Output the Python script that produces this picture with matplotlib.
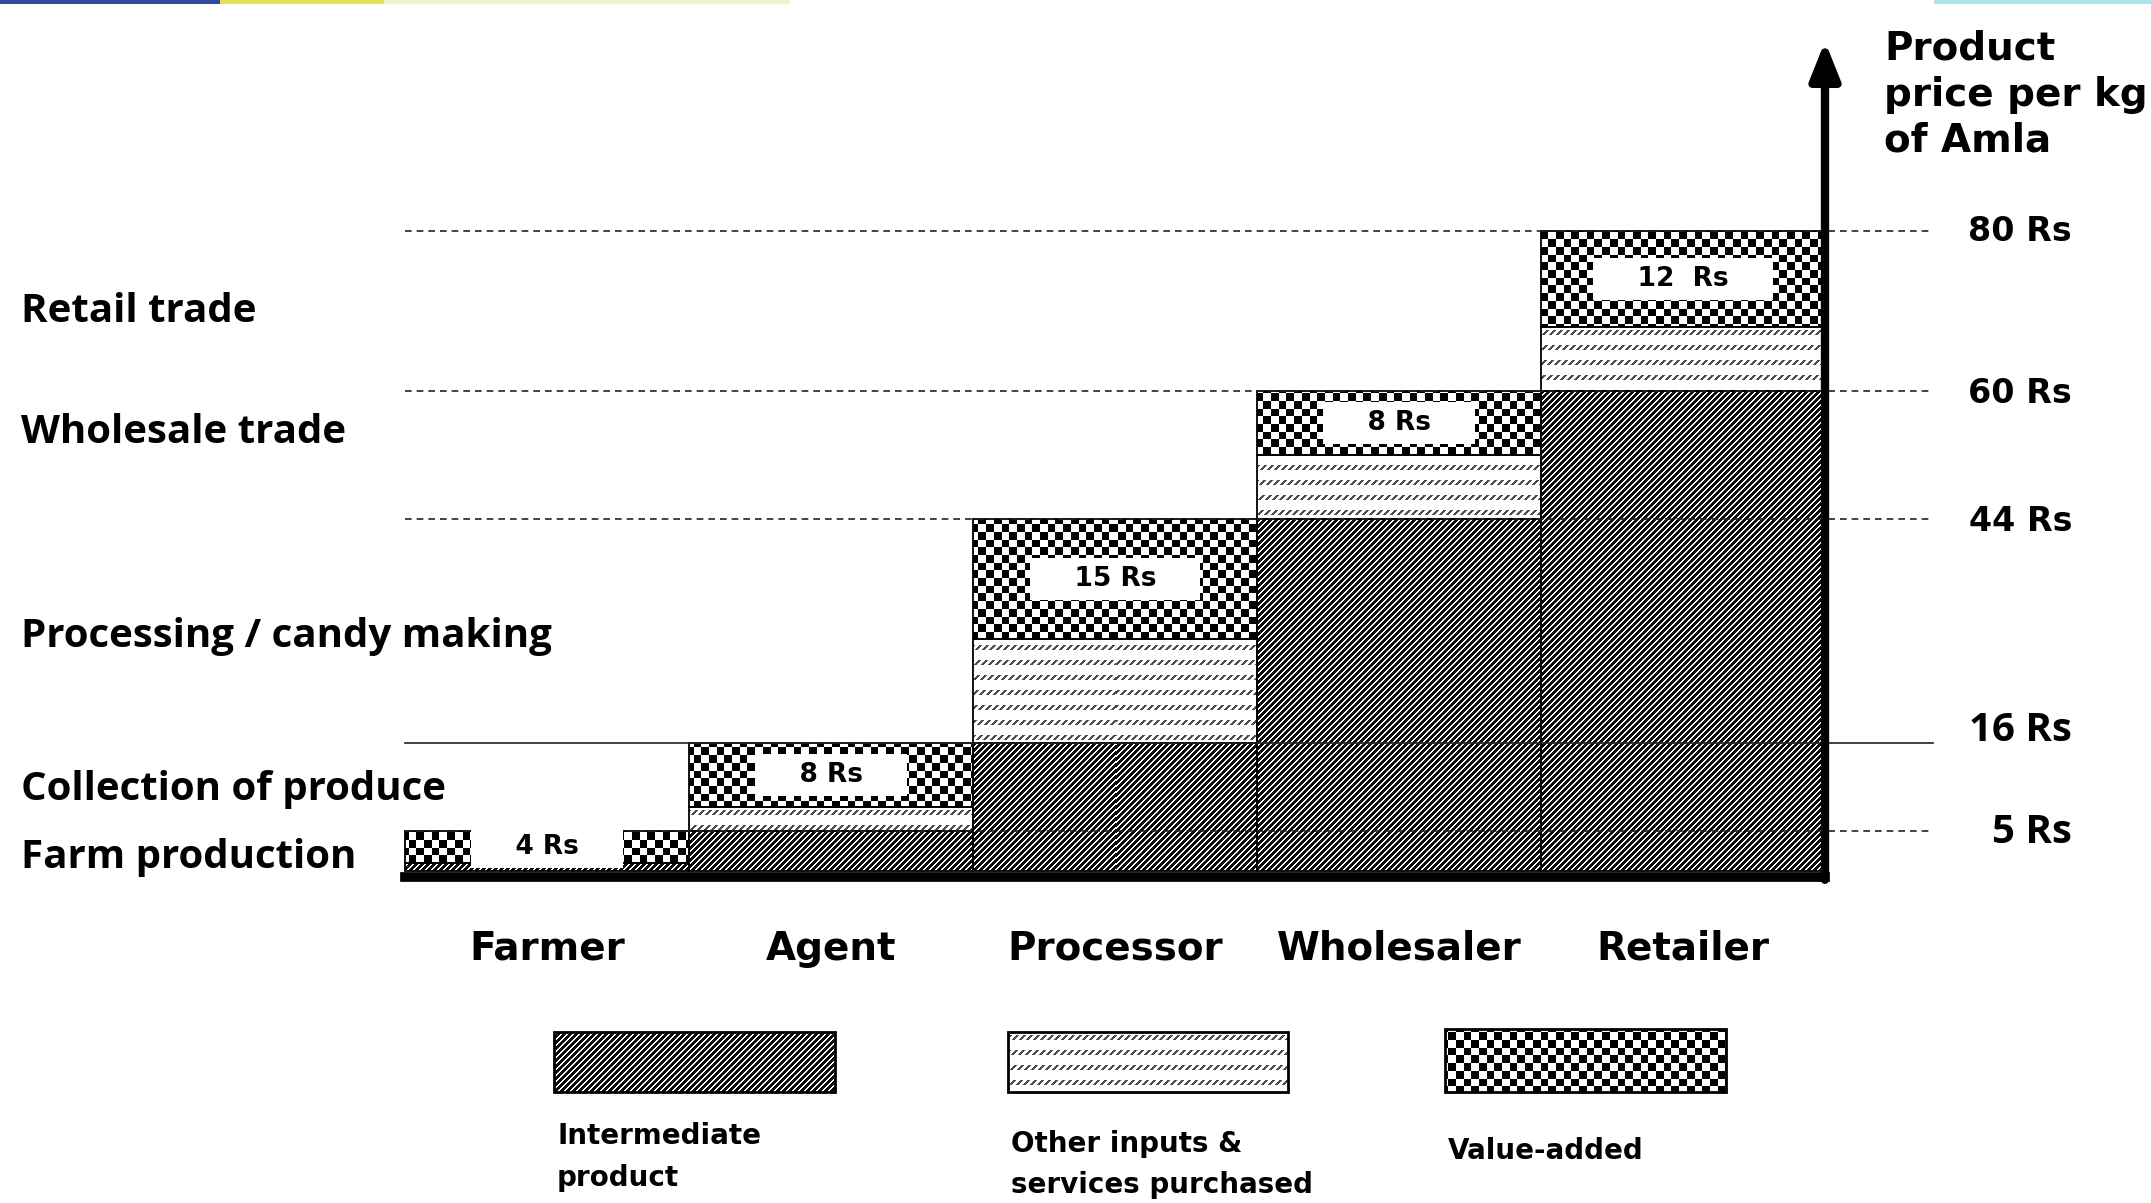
import numpy as np
import matplotlib
matplotlib.use("Agg")
import matplotlib.pyplot as plt
from matplotlib.patches import Rectangle

# values (Rs per kg of amla)
actors = ["Farmer", "Agent", "Processor", "Wholesaler", "Retailer"]
stages = ["Farm production", "Collection of produce", "Processing / candy making",
          "Wholesale trade", "Retail trade"]
intermediate = [1, 5, 16, 44, 60]
other_inputs = [0, 3, 13, 8, 8]
value_added = [4, 8, 15, 8, 12]
value_labels = ["4 Rs", "8 Rs", "15 Rs", "8 Rs", "12  Rs"]
price_levels = [5, 16, 44, 60, 80]
price_labels = ["5 Rs", "16 Rs", "44 Rs", "60 Rs", "80 Rs"]
legend_labels = [["Intermediate", "product"],
                 ["Other inputs &", "services purchased"],
                 ["Value-added"]]
title_lines = ["Product", "price per kg", "of Amla"]

# canvas layout, in pixels from the top-left corner
W, H = 2151, 1203
X0, UX = 405, 284.0      # left edge of the first bar, width of one bar
Y0, UY = 871, 8.0        # baseline, pixels per rupee
SANS = "DejaVu Sans"
CALIBRI = "Open Sans"

fig = plt.figure(figsize=(W / 100, H / 100), dpi=100)
ax = fig.add_axes([0, 0, 1, 1])
ax.set_xlim(-0.5 - X0 / UX, -0.5 + (W - X0) / UX)
ax.set_ylim(-(H - Y0) / UY, Y0 / UY)
ax.axis("off")

# plain pixel axes for legend and free text
pax = fig.add_axes([0, 0, 1, 1])
pax.set_xlim(0, W)
pax.set_ylim(H, 0)
pax.axis("off")


def pattern(kind, rows, cols):
    rr, cc = np.meshgrid(rows, cols, indexing="ij")
    if kind == "stripes":
        return np.where((cc + rr) % 6.0 < 3.2, 0.05, 1.0)
    if kind == "dashes":
        ink = ((rr % 15) < 5) & ((cc + rr) % 7 < 2.5)
        return np.where(ink, 0.3, 1.0)
    cell = 7.7
    return ((cc // cell + rr // cell) % 2).astype(float)


def fill(axes, patch, kind):
    # paint a pixel-aligned texture and clip it to the patch
    bb = patch.get_window_extent()
    l, r = int(np.floor(bb.x0)), int(np.ceil(bb.x1))
    b, t = int(np.floor(bb.y0)), int(np.ceil(bb.y1))
    if r - l < 1 or t - b < 1 or bb.height < 0.5:
        return
    img = pattern(kind, np.arange(H - t, H - b), np.arange(l, r))
    (x0, y0), (x1, y1) = axes.transData.inverted().transform([(l, b), (r, t)])
    im = axes.imshow(img, extent=(x0, x1, y0, y1), cmap="gray", vmin=0, vmax=1,
                     interpolation="nearest", aspect="auto", zorder=2)
    im.set_clip_path(patch)


# stacked bars
x = np.arange(len(actors))
inter = np.array(intermediate, float)
other = np.array(other_inputs, float)
va = np.array(value_added, float)
kw = dict(width=1.0, facecolor="none", edgecolor="black", linewidth=1.3, zorder=3)
layers = [(ax.bar(x, inter, **kw), "stripes"),
          (ax.bar(x, other, bottom=inter, **kw), "dashes"),
          (ax.bar(x, va, bottom=inter + other, **kw), "checker")]
for bars, kind in layers:
    for p in bars:
        fill(ax, p, kind)

for p, lab in zip(layers[2][0], value_labels):
    t = ax.text(p.get_x() + p.get_width() / 2, p.get_y() + p.get_height() / 2,
                "    " + lab + "    ", ha="center", va="center", family=SANS,
                fontweight="bold", fontsize=19, zorder=6,
                bbox=dict(boxstyle="square,pad=0.3", fc="white", ec="none"))
    t.set_clip_path(p)

# price level guides
x_left, x_right = x[0] - 0.5, x[-1] + 0.5
line_styles = [(0, (4, 3)), "-", (0, (4, 3)), (0, (4, 3)), (0, (4, 3))]
label_fonts = [CALIBRI, CALIBRI, SANS, SANS, SANS]
label_sizes = [29, 29, 24, 24, 24]
label_dy = [-1.5, 0.3, -1.5, -1.5, -1.3]
for lev, lab, ls, fam, fs, dy in zip(price_levels, price_labels, line_styles,
                                     label_fonts, label_sizes, label_dy):
    ax.plot([x_left, x_right + 0.38], [lev, lev], color="#222222", lw=1.2, ls=ls, zorder=4)
    ax.text(x_right + 0.87, lev + dy, lab, ha="right", va="baseline", family=fam,
            fontweight="bold", fontsize=fs, zorder=6)

# axis: thick baseline and price arrow
ax.plot([x_left, x_right], [-0.7, -0.7], color="black", lw=7,
        solid_capstyle="projecting", zorder=5)
ax.annotate("", xy=(x_right, 103.7), xytext=(x_right, -1.1),
            arrowprops=dict(arrowstyle="-|>,head_length=0.75,head_width=0.3",
                            lw=6, color="black", shrinkA=0, shrinkB=0,
                            mutation_scale=30), zorder=5)

for xi, name in zip(x, actors):
    ax.text(xi, (Y0 - 960) / UY, name, ha="center", va="baseline", family=SANS,
            fontweight="bold", fontsize=28)

# stage names on the left
stage_base = [868, 800, 647, 443, 322]
for name, yb in zip(stages, stage_base):
    pax.text(21, yb, name, ha="left", va="baseline", family=CALIBRI,
             fontweight="bold", fontsize=29)

# axis title
for i, line in enumerate(title_lines):
    pax.text(1884, 60 + 46 * i, line, ha="left", va="baseline", family=SANS,
             fontweight="bold", fontsize=28)

# legend
leg_boxes = [(554, 1032, 281, 60), (1008, 1032, 280, 60), (1445, 1029, 281, 63)]
leg_base = [(1144, 1186), (1152, 1193), (1159,)]
for (lx, ly, lw_, lh), kind, labs, bases in zip(leg_boxes, ["stripes", "dashes", "checker"],
                                                 legend_labels, leg_base):
    rect = Rectangle((lx, ly), lw_, lh, facecolor="none", edgecolor="black",
                     linewidth=2, zorder=3)
    pax.add_patch(rect)
    fill(pax, rect, kind)
    for lab, yb in zip(labs, bases):
        pax.text(lx + 3, yb, lab, ha="left", va="baseline", family=SANS,
                 fontweight="bold", fontsize=20)

# thin coloured strip along the top edge
for x0, x1, col in [(0, 220, "#2f4a98"), (220, 384, "#e4e05a"),
                    (384, 790, "#f3f2c8"), (1934, 2151, "#aee3ea")]:
    pax.add_patch(Rectangle((x0, 0), x1 - x0, 4, color=col, lw=0, zorder=1))

fig.savefig("out.png", dpi=100, facecolor="white")
